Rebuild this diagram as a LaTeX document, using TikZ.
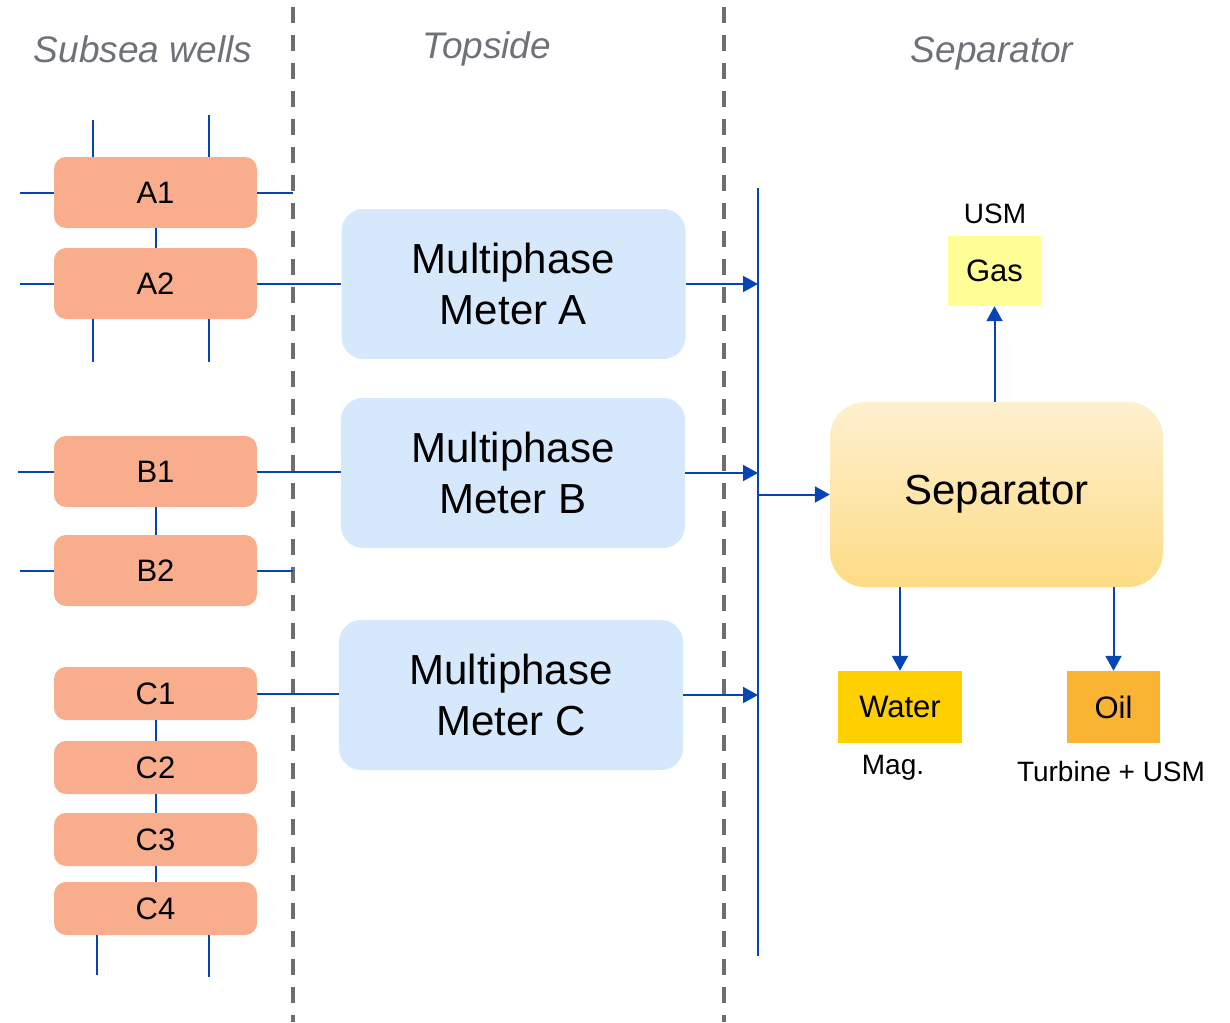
\documentclass[tikz,border=0pt]{standalone}
\usepackage{fontspec}
\setmainfont{Liberation Sans}
\usetikzlibrary{arrows.meta}

\definecolor{pipeblue}{RGB}{5,70,180}
\definecolor{wellfill}{RGB}{248,174,141}
\definecolor{meterfill}{RGB}{214,232,252}
\definecolor{septop}{RGB}{254,240,208}
\definecolor{sepbot}{RGB}{253,220,133}
\definecolor{gasfill}{RGB}{255,253,150}
\definecolor{waterfill}{RGB}{255,208,0}
\definecolor{oilfill}{RGB}{248,180,50}
\definecolor{headgray}{RGB}{110,114,120}
\definecolor{divgray}{RGB}{110,110,110}

\tikzset{
  well/.style={rounded corners=12pt, fill=wellfill, inner sep=0pt,
    minimum width=203pt, minimum height=71pt, font=\fontsize{31}{36}\selectfont},
  cwell/.style={well, minimum height=53pt},
  meter/.style={rounded corners=22pt, fill=meterfill, inner sep=0pt, align=center,
    minimum width=344pt, minimum height=150pt, font=\fontsize{42}{51}\selectfont},
  phase/.style={inner sep=0pt, minimum height=72pt, font=\fontsize{31}{36}\selectfont},
  note/.style={inner sep=0pt, font=\fontsize{28}{32}\selectfont},
  heading/.style={inner sep=0pt, text=headgray, font=\fontsize{37}{40}\selectfont\itshape},
  pipe/.style={draw=pipeblue, line width=2pt},
  flow/.style={pipe, -{Triangle[length=15pt,width=16pt]}},
  divider/.style={draw=divgray, line width=4pt, dash pattern=on 16pt off 12pt}
}

\begin{document}
\begin{tikzpicture}[x=1pt, y=-1pt]

      \useasboundingbox (0,0) rectangle (1230,1022);

      % zones
      \draw[divider] (293,7) -- (293,1022);
      \draw[divider] (724,7) -- (724,1022);
      \node[heading] (hwells) at (143,49) {Subsea wells};
      \node[heading] (htop) at (487,49) {Topside};
      \node[heading] (hsep) at (992,53) {Separator};

      % subsea wells
      \node[well] (a1) at (155.5,192.5) {A1};
      \node[well] (a2) at (155.5,283.5) {A2};
      \node[well] (b1) at (155.5,471.5) {B1};
      \node[well] (b2) at (155.5,570.5) {B2};
      \node[cwell] (c1) at (155.5,693.5) {C1};
      \node[cwell] (c2) at (155.5,767.5) {C2};
      \node[cwell] (c3) at (155.5,839.5) {C3};
      \node[cwell] (c4) at (155.5,908.5) {C4};

      % meters
      \node[meter] (meterA) at (513.5,284) {Multiphase\\Meter A};
      \node[meter] (meterB) at (513,473) {Multiphase\\Meter B};
      \node[meter] (meterC) at (511,695) {Multiphase\\Meter C};

      % separator and outlets
      \node[rounded corners=35pt, top color=septop, bottom color=sepbot, inner sep=0pt,
        minimum width=333pt, minimum height=185pt, font=\fontsize{42}{50}\selectfont]
        (sep) at (996.5,494.5) {Separator};
      \node[phase, fill=gasfill, minimum width=93pt, minimum height=70pt] (gas) at (994.5,271) {Gas};
      \node[phase, fill=waterfill, minimum width=124pt] (water) at (900,707) {Water};
      \node[phase, fill=oilfill, minimum width=93pt] (oil) at (1113.5,707) {Oil};
      \node[note] (usm) at (995,214) {USM};
      \node[note] (mag) at (893,768) {Mag.};
      \node[note] (turb) at (1111,771) {Turbine + USM};

      % well stubs
      \draw[pipe] ([xshift=-63pt]a1.north) -- ++(0,-37);
      \draw[pipe] ([xshift=53pt]a1.north) -- ++(0,-42);
      \draw[pipe] (a1.west) -- ++(-34,0);
      \draw[pipe] (a1.east) -- (a1.east -| 293,0);
      \draw[pipe] (a1.south) -- (a2.north);
      \draw[pipe] (a2.west) -- ++(-34,0);
      \draw[pipe] ([xshift=-63pt]a2.south) -- ++(0,43);
      \draw[pipe] ([xshift=53pt]a2.south) -- ++(0,43);
      \draw[pipe] (a2.east) -- (a2.east -| meterA.west);

      \draw[pipe] (b1.west) -- ++(-36,0);
      \draw[pipe] (b1.east) -- (b1.east -| meterB.west);
      \draw[pipe] (b1.south) -- (b2.north);
      \draw[pipe] (b2.west) -- ++(-34,0);
      \draw[pipe] (b2.east) -- (b2.east -| 293,0);

      \draw[pipe] (c1.east) -- (c1.east -| meterC.west);
      \draw[pipe] (c1.south) -- (c2.north);
      \draw[pipe] (c2.south) -- (c3.north);
      \draw[pipe] (c3.south) -- (c4.north);
      \draw[pipe] ([xshift=-59pt]c4.south) -- ++(0,40);
      \draw[pipe] ([xshift=53pt]c4.south) -- ++(0,42);

      % manifold
      \coordinate (bustop) at (758,188);
      \coordinate (busbot) at (758,956);
      \draw[pipe] (bustop) -- (busbot);
      \draw[flow] (meterA.east) -- (meterA.east -| bustop);
      \draw[flow] (meterB.east) -- (meterB.east -| bustop);
      \draw[flow] (meterC.east) -- (meterC.east -| bustop);
      \draw[flow] (sep.west -| bustop) -- (sep.west);

      % outlets
      \draw[flow] (sep.north -| gas) -- (gas.south);
      \draw[flow] (sep.south -| water) -- (water.north);
      \draw[flow] (sep.south -| oil) -- (oil.north);

    \end{tikzpicture}
\end{document}
